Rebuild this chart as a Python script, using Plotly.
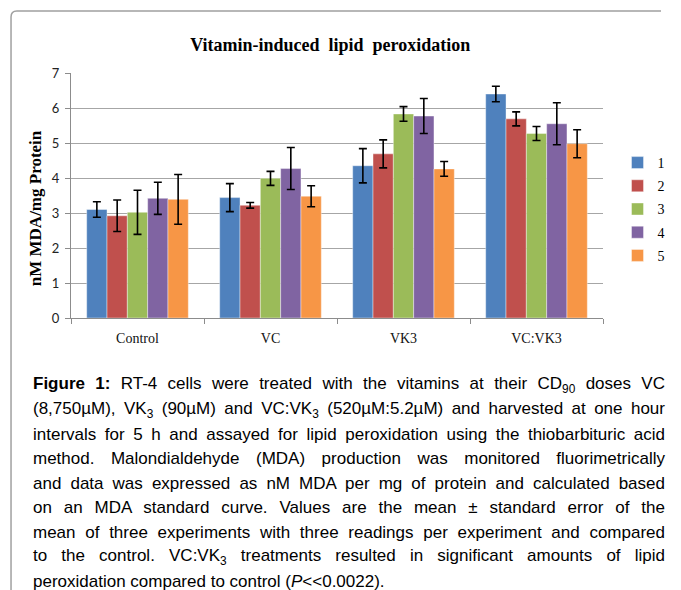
import plotly.graph_objects as go

categories = ["Control", "VC", "VK3", "VC:VK3"]
series_names = ["1", "2", "3", "4", "5"]
values = [
    [3.10, 3.44, 4.35, 6.40],
    [2.92, 3.22, 4.69, 5.69],
    [3.02, 3.99, 5.83, 5.27],
    [3.42, 4.27, 5.77, 5.55],
    [3.39, 3.48, 4.26, 4.98],
]
errors = [
    [0.22, 0.40, 0.49, 0.22],
    [0.45, 0.08, 0.40, 0.20],
    [0.63, 0.20, 0.21, 0.20],
    [0.46, 0.60, 0.50, 0.60],
    [0.71, 0.30, 0.21, 0.40],
]
colors = ["#4F81BD", "#C0504D", "#9BBB59", "#8064A2", "#F79646"]

caption_lines = [
    "<b>Figure 1:</b> RT-4 cells were treated with the vitamins at their CD<sub>90</sub> doses VC",
    "(8,750µM), VK<sub>3</sub> (90µM) and VC:VK<sub>3</sub> (520µM:5.2µM) and harvested at one hour",
    "intervals for 5 h and assayed for lipid peroxidation using the thiobarbituric acid",
    "method. Malondialdehyde (MDA) production was monitored fluorimetrically",
    "and data was expressed as nM MDA per mg of protein and calculated based",
    "on an MDA standard curve. Values are the mean ± standard error of the",
    "mean of three experiments with three readings per experiment and compared",
    "to the control. VC:VK<sub>3</sub> treatments resulted in significant amounts of lipid",
    "peroxidation compared to control (<i>P</i>&lt;&lt;0.0022).",
]

W, H = 681, 590
L, R, T, B = 71, 60, 73, 272
pw, ph = W - L - R, H - T - B

def fx(px):
    return (px - L) / pw

def fy(py):
    return (H - B - py) / ph

fig = go.Figure()
for i, name in enumerate(series_names):
    fig.add_trace(go.Bar(
        x=categories, y=values[i], name=name,
        marker=dict(color=colors[i], line=dict(color="rgba(255,255,255,0.5)", width=0.8)),
        error_y=dict(type="data", array=errors[i], visible=True,
                     color="black", thickness=1.6, width=4),
        legendgroup=name,
    ))

annotations = [
    dict(text="<b>nM MDA/mg Protein</b>", textangle=-90, xref="paper", yref="paper",
         x=fx(34), y=fy(208), xanchor="center", yanchor="middle", showarrow=False,
         font=dict(family="Liberation Serif, Times New Roman, serif", size=17, color="black")),
]
cap_left, cap_right = 30, 662
y0, dy = 385, 24.5
for k, line in enumerate(caption_lines):
    annotations.append(dict(
        text=line, xref="paper", yref="paper", x=fx(cap_left), y=fy(y0 + k * dy),
        xanchor="left", yanchor="middle", showarrow=False, align="left",
        font=dict(family="Liberation Sans, Arial, sans-serif", size=17, color="black"),
    ))

r = 6
frame_path = (f"M {fx(9)},{fy(590)} L {fx(9)},{fy(11 + r)} "
              f"Q {fx(9)},{fy(11)} {fx(9 + r)},{fy(11)} L {fx(681)},{fy(11)}")

fig.update_layout(
    width=W, height=H,
    margin=dict(l=L, r=R, t=T, b=B),
    paper_bgcolor="white", plot_bgcolor="white",
    barmode="group", bargap=0.236, bargroupgap=0,
    title=dict(text="<b>Vitamin-induced  lipid  peroxidation</b>", x=fx(339), xref="paper",
               xanchor="center", y=1 - 45 / H, yanchor="middle",
               font=dict(family="Liberation Serif, Times New Roman, serif", size=18, color="black")),
    xaxis=dict(showline=True, linecolor="#8c8c8c", linewidth=1, ticks="outside",
               tickson="boundaries", ticklen=5, tickcolor="#8c8c8c",
               tickfont=dict(family="Liberation Serif, Times New Roman, serif", size=14, color="#111"),
               ticklabelstandoff=7, showgrid=False),
    yaxis=dict(range=[0, 7], dtick=1, showline=True, linecolor="#8c8c8c", linewidth=1,
               ticks="outside", ticklen=5, tickcolor="#8c8c8c",
               showgrid=True, gridcolor="#a6a6a6", gridwidth=1,
               tickfont=dict(family="Lato, Liberation Sans, sans-serif", size=13, color="#222"),
               ticklabelstandoff=3, zeroline=False),
    legend=dict(x=fx(636), y=fy(147), xanchor="left", yanchor="top",
                font=dict(family="Liberation Serif, Times New Roman, serif", size=14, color="black"),
                tracegroupgap=2, traceorder="grouped", itemwidth=30, bgcolor="rgba(0,0,0,0)"),
    annotations=annotations,
    shapes=[dict(type="path", path=frame_path, xref="paper", yref="paper",
                 line=dict(color="#a0a0a0", width=1.5))],
)

js = """
document.body.style.margin = '0px';
document.body.style.overflow = 'hidden';
(function(){
  var gd = document.getElementById('{plot_id}');
  function justify(){
    for (var k = FIRST; k <= LAST; k++){
      var t = gd.querySelector('g.annotation[data-index="' + k + '"] text.annotation-text');
      if (!t) continue;
      t.style.wordSpacing = '0px';
      var len = t.getComputedTextLength();
      var n = (t.textContent.match(/ /g) || []).length;
      if (n > 0 && len < TARGET) t.style.wordSpacing = ((TARGET - len) / n) + 'px';
    }
  }
  justify();
  if (gd.on) gd.on('plotly_afterplot', justify);
})();
"""
js = (js.replace("FIRST", "1")
        .replace("LAST", str(len(caption_lines) - 1))
        .replace("TARGET", str(cap_right - cap_left)))

fig.write_html("out.html", post_script=js, config={"displayModeBar": False})
